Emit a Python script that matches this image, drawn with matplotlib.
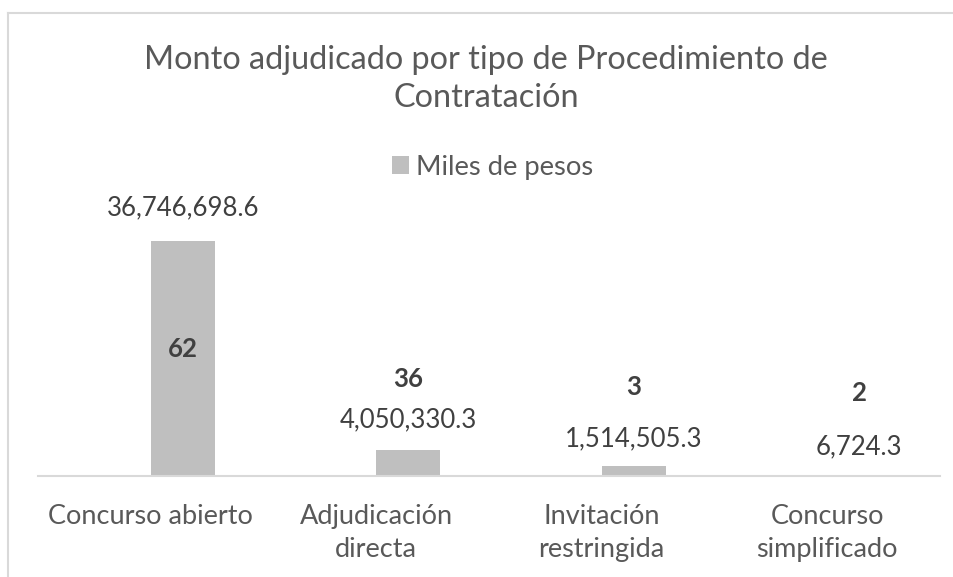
import matplotlib
matplotlib.use("Agg")
import matplotlib.pyplot as plt
from matplotlib.lines import Line2D

# ---- data ----
categories = ["Concurso abierto", "Adjudicación\ndirecta", "Invitación\nrestringida", "Concurso\nsimplificado"]
montos = [36746698.6, 4050330.3, 1514505.3, 6724.3]
conteos = [62, 36, 3, 2]
serie_nombre = "Miles de pesos"
titulo = "Monto adjudicado por tipo de Procedimiento de\nContratación"

FONT = "Lato"
plt.rcParams["font.family"] = [FONT, "DejaVu Sans"]

W, H, DPI = 954, 577, 100
fig = plt.figure(figsize=(W / DPI, H / DPI), dpi=DPI)
fig.patch.set_facecolor("white")

# axes placement (pixels)
ax_left, ax_right, ax_bottom_px = 38, 940, 476
ymax = 52_000_000
px_per_unit = 235 / 36746698.6
ax_h = ymax * px_per_unit
ax = fig.add_axes([ax_left / W, (H - ax_bottom_px) / H, (ax_right - ax_left) / W, ax_h / H])
ax.set_xlim(-0.5, len(categories) - 0.5)
ax.set_ylim(0, ymax)
for s in ["top", "right", "left"]:
    ax.spines[s].set_visible(False)
ax.spines["bottom"].set_color("#D9D9D9")
ax.spines["bottom"].set_linewidth(1.5)
ax.set_yticks([])
ax.set_xticks([])

bar_w = 64 / 225.5
xs = list(range(len(categories)))
bars = ax.bar(xs, montos, width=bar_w, align="edge", color="#BFBFBF", label=serie_nombre, zorder=2)

# value labels above bars
val_offsets_px = [33, 30, 28, 29]
for x, v, off in zip(xs, montos, val_offsets_px):
    ax.annotate(f"{v:,.1f}", xy=(x + bar_w / 2, v), xytext=(0, off * 72 / DPI),
                textcoords="offset points", ha="center", va="center",
                fontsize=18.5, color="#404040")

# count labels (bold) at fixed vertical spots
def ypix_to_data(yp):
    return (ax_bottom_px - yp) / px_per_unit

count_ypix = [349, 379, 387, 393]
for x, c, yp in zip(xs, conteos, count_ypix):
    ax.text(x + bar_w / 2, ypix_to_data(yp), f"{c}", ha="center", va="center",
            fontsize=18.5, fontweight="bold", color="#404040")

# category labels
for x, lab in zip(xs, categories):
    ax.text(x, ypix_to_data(504), lab, ha="center", va="top", fontsize=19.5,
            color="#595959", linespacing=1.38)

# title
fig.text(486 / W, 1 - 45 / H, titulo, ha="center", va="top", fontsize=23.3,
         color="#595959", linespacing=1.34)

# legend
leg = fig.legend(handles=[bars], labels=[serie_nombre], loc="center",
                 bbox_to_anchor=(493 / W, 1 - 167 / H), frameon=False,
                 fontsize=19.7, handlelength=0.62, handleheight=0.62, handletextpad=0.26,
                 borderpad=0, borderaxespad=0)
for t in leg.get_texts():
    t.set_color("#595959")

# chart border lines
fig.add_artist(Line2D([8.5 / W, 8.5 / W], [0, 1 - 12.5 / H], color="#D9D9D9", lw=1.5, transform=fig.transFigure))
fig.add_artist(Line2D([8.5 / W, 1], [1 - 12.5 / H, 1 - 12.5 / H], color="#D9D9D9", lw=1.5, transform=fig.transFigure))

fig.savefig("out.png", dpi=DPI, facecolor="white")
